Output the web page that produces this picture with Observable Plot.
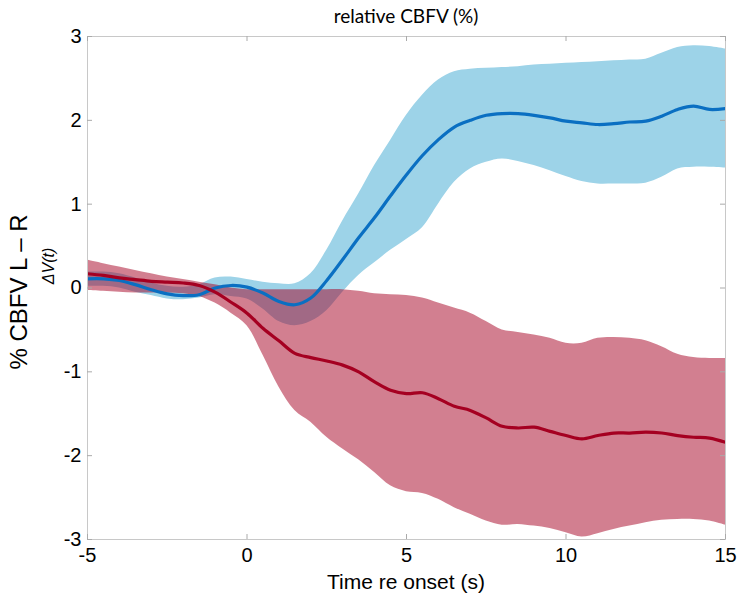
<!DOCTYPE html>
<html>
<head>
<meta charset="utf-8">
<script src="https://cdn.jsdelivr.net/npm/d3@7"></script>
<script src="https://cdn.jsdelivr.net/npm/@observablehq/plot@0.6"></script>
<style>
  html, body { margin: 0; padding: 0; background: #fff; }
  #chart { width: 747px; height: 606px; }
</style>
</head>
<body>
<div id="chart"></div>
<script>
// Time (s)
const time = [-5,-4.5,-4,-3.5,-3,-2.5,-2,-1.5,-1,-0.5,0,0.5,1,1.5,2,2.5,3,3.5,4,4.5,5,5.5,6,6.5,7,7.5,8,8.5,9,9.5,10,10.5,11,11.5,12,12.5,13,13.5,14,14.5,15];
// Blue series: mean, upper, lower
const blueMean = [0.11,0.11,0.09,0.04,-0.02,-0.07,-0.09,-0.08,0.0,0.03,0.01,-0.06,-0.16,-0.2,-0.12,0.09,0.34,0.6,0.84,1.1,1.35,1.58,1.77,1.92,2.0,2.06,2.08,2.08,2.06,2.03,1.99,1.97,1.95,1.96,1.98,1.99,2.05,2.13,2.17,2.13,2.14];
const blueUpper = [0.19,0.19,0.17,0.12,0.06,0.02,0.01,0.04,0.12,0.13,0.1,0.07,0.05,0.05,0.17,0.45,0.8,1.12,1.46,1.76,2.06,2.3,2.48,2.58,2.61,2.62,2.63,2.64,2.66,2.67,2.68,2.69,2.7,2.71,2.72,2.73,2.8,2.87,2.89,2.88,2.85];
const blueLower = [0.02,0.02,0.0,-0.05,-0.09,-0.13,-0.14,-0.12,-0.08,-0.1,-0.13,-0.25,-0.4,-0.45,-0.4,-0.27,-0.05,0.15,0.3,0.45,0.58,0.72,1.0,1.26,1.42,1.5,1.54,1.51,1.46,1.4,1.33,1.27,1.24,1.24,1.24,1.25,1.32,1.42,1.44,1.44,1.43];
// Red series: mean, upper, lower
const redMean = [0.17,0.15,0.12,0.1,0.08,0.07,0.06,0.03,-0.05,-0.17,-0.3,-0.48,-0.63,-0.78,-0.83,-0.87,-0.92,-1.0,-1.12,-1.22,-1.26,-1.25,-1.32,-1.41,-1.46,-1.55,-1.65,-1.67,-1.66,-1.71,-1.76,-1.8,-1.76,-1.73,-1.73,-1.72,-1.73,-1.76,-1.78,-1.79,-1.84];
const redUpper = [0.33,0.29,0.25,0.21,0.17,0.13,0.1,0.07,0.04,0.0,-0.02,-0.02,-0.02,-0.02,-0.02,-0.02,-0.02,-0.04,-0.07,-0.08,-0.09,-0.12,-0.18,-0.24,-0.3,-0.4,-0.5,-0.53,-0.56,-0.6,-0.66,-0.66,-0.6,-0.59,-0.6,-0.63,-0.7,-0.79,-0.83,-0.84,-0.84];
const redLower = [-0.03,-0.04,-0.05,-0.06,-0.06,-0.06,-0.07,-0.1,-0.18,-0.3,-0.45,-0.8,-1.18,-1.46,-1.6,-1.78,-1.92,-2.05,-2.2,-2.36,-2.43,-2.45,-2.52,-2.62,-2.7,-2.78,-2.83,-2.82,-2.84,-2.87,-2.92,-2.97,-2.93,-2.88,-2.84,-2.8,-2.77,-2.76,-2.76,-2.78,-2.83];
// Tick values
const xTicks = [-5, 0, 5, 10, 15];
const yTicks = [-3, -2, -1, 0, 1, 2, 3];

const rows = time.map((t, i) => ({
  t, bm: blueMean[i], bu: blueUpper[i], bl: blueLower[i],
  rm: redMean[i], ru: redUpper[i], rl: redLower[i]
}));

const W = 747, H = 606;
const mL = 87, mR = 22, mT = 36, mB = 67;
const plotW = W - mL - mR, plotH = H - mT - mB;
const tickLen = 5;
const curve = "catmull-rom";
const tickFont = "Liberation Sans, Arial, sans-serif";
const fmt = d => String(d);

const chart = Plot.plot({
  width: W,
  height: H,
  marginLeft: mL,
  marginRight: mR,
  marginTop: mT,
  marginBottom: mB,
  style: { fontFamily: tickFont, fontSize: "20px", color: "#000", background: "#fff" },
  x: { domain: [-5, 15], ticks: xTicks, label: null },
  y: { domain: [-3, 3], ticks: yTicks, label: null },
  marks: [
    Plot.areaY(rows, { x: "t", y1: "bl", y2: "bu", fill: "#9dd3e8", curve, clip: true }),
    Plot.areaY(rows, { x: "t", y1: "rl", y2: "ru", fill: "#a50021", fillOpacity: 0.5, curve, clip: true }),
    Plot.lineY(rows, { x: "t", y: "bm", stroke: "#0a6fc2", strokeWidth: 3.2, curve, clip: true }),
    Plot.lineY(rows, { x: "t", y: "rm", stroke: "#a50021", strokeWidth: 3.2, curve, clip: true }),
    Plot.frame({ stroke: "#c8c8c8", strokeWidth: 1 }),
    // inward tick marks on all four sides
    Plot.tickX(xTicks, { x: d => d, stroke: "#aaa", insetTop: plotH - tickLen }),
    Plot.tickX(xTicks, { x: d => d, stroke: "#aaa", insetBottom: plotH - tickLen }),
    Plot.tickY(yTicks, { y: d => d, stroke: "#aaa", insetRight: plotW - tickLen }),
    Plot.tickY(yTicks, { y: d => d, stroke: "#aaa", insetLeft: plotW - tickLen }),
    Plot.axisX({ anchor: "bottom", ticks: xTicks, tickSize: 0, tickPadding: 8, tickFormat: fmt, fontSize: 20, label: null }),
    Plot.axisY({ anchor: "left", ticks: yTicks, tickSize: 0, tickPadding: 6, tickFormat: fmt, fontSize: 20, label: null })
  ]
});

document.getElementById("chart").appendChild(chart);

const svg = d3.select(chart);
svg.append("text")
  .attr("x", 406).attr("y", 23)
  .attr("text-anchor", "middle")
  .attr("font-family", "Lato, 'Open Sans', sans-serif")
  .attr("font-size", 19)
  .attr("fill", "#000")
  .text("relative CBFV (%)");
svg.append("text")
  .attr("x", 406).attr("y", 589)
  .attr("text-anchor", "middle")
  .attr("font-family", tickFont)
  .attr("font-size", 21)
  .attr("fill", "#000")
  .text("Time re onset (s)");
svg.append("text")
  .attr("transform", "translate(27,292) rotate(-90)")
  .attr("text-anchor", "middle")
  .attr("font-family", tickFont)
  .attr("font-size", 24)
  .attr("fill", "#000")
  .text("% CBFV L \u2013 R");
svg.append("text")
  .attr("transform", "translate(54,266) rotate(-90)")
  .attr("text-anchor", "middle")
  .attr("font-family", tickFont)
  .attr("font-style", "italic")
  .attr("font-size", 16)
  .attr("fill", "#000")
  .text("\u0394V(t)");
</script>
</body>
</html>
